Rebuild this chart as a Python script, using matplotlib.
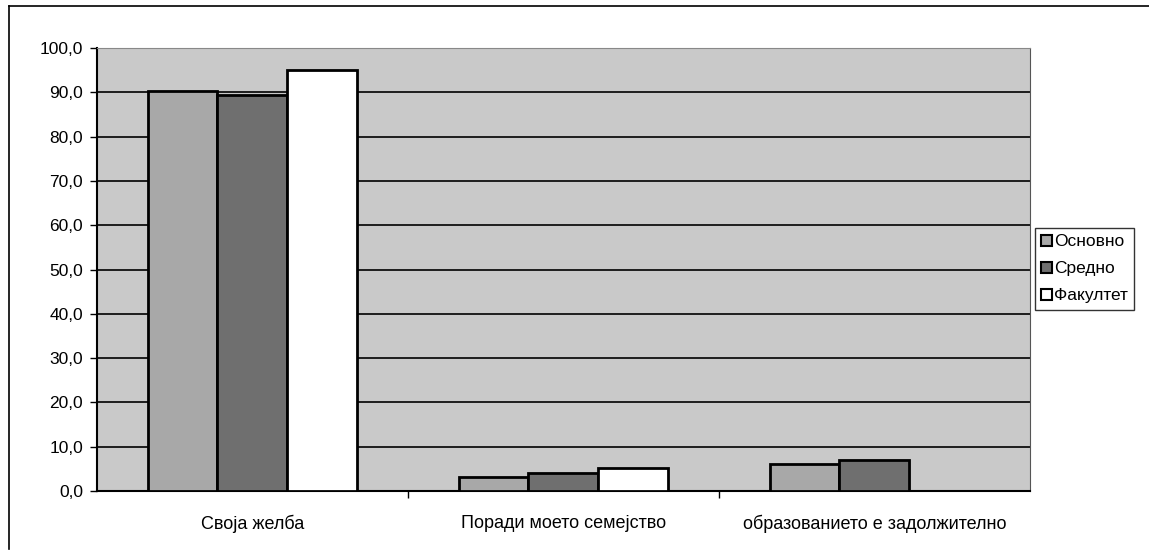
import numpy as np
import matplotlib.pyplot as plt
from matplotlib.patches import Patch
from matplotlib.ticker import FuncFormatter
from matplotlib.lines import Line2D

plt.rcParams['font.family'] = ['Liberation Sans', 'DejaVu Sans']

categories = ['Своја желба', 'Поради моето семејство', 'образованието е задолжително']
series = ['Основно', 'Средно', 'Факултет']
osnovno = [90.2, 3.2, 6.2]
sredno = [89.3, 4.0, 6.9]
fakultet = [95.1, 5.1, 0.0]
colors = ['#a8a8a8', '#6f6f6f', '#ffffff']

fig = plt.figure(figsize=(11.49, 5.59), dpi=100)
ax = fig.add_axes([0.0844, 0.1216, 0.812, 0.7925])
ax.set_facecolor('#c9c9c9')

x = np.arange(len(categories))
w = 0.225
for i, (vals, c) in enumerate(zip([osnovno, sredno, fakultet], colors)):
    ax.bar(x + (i - 1) * w, vals, width=w, color=c, edgecolor='black',
           linewidth=2, zorder=3)

ax.set_xlim(-0.5, 2.5)
ax.set_ylim(0, 100)
ax.set_yticks(np.arange(0, 101, 10))
ax.yaxis.set_major_formatter(FuncFormatter(lambda v, p: f'{v:.1f}'.replace('.', ',')))
ax.yaxis.grid(True, color='black', linewidth=1.2, zorder=1)
ax.set_axisbelow(True)

ax.set_xticks(x)
ax.set_xticklabels(categories)
ax.set_xticks([0.5, 1.5], minor=True)
ax.tick_params(axis='x', which='major', length=0, pad=17, labelsize=13)
ax.tick_params(axis='x', which='minor', length=5, direction='out', width=1)
ax.tick_params(axis='y', length=5, direction='out', width=1, labelsize=12.5, pad=5)

ax.spines['left'].set_color('black')
ax.spines['left'].set_linewidth(1.5)
ax.spines['bottom'].set_color('black')
ax.spines['bottom'].set_linewidth(1.5)
ax.spines['top'].set_color('#888888')
ax.spines['right'].set_color('#555555')

handles = [Patch(facecolor=c, edgecolor='black', linewidth=1.5) for c in colors]
leg = fig.legend(handles, series, loc='upper left', bbox_to_anchor=(0.901, 0.592),
                 frameon=True, fancybox=False, edgecolor='black', fontsize=12.5,
                 handlelength=0.6, handleheight=0.6, handletextpad=0.15,
                 borderpad=0.35, labelspacing=0.7, borderaxespad=0)
leg.get_frame().set_linewidth(1)

# outer chart border
fig.add_artist(Line2D([0.008, 0.008], [0.018, 0.99], color='black', linewidth=1.2))
fig.add_artist(Line2D([0.008, 1.0], [0.99, 0.99], color='black', linewidth=1.2))

fig.savefig('out.png', dpi=100)
